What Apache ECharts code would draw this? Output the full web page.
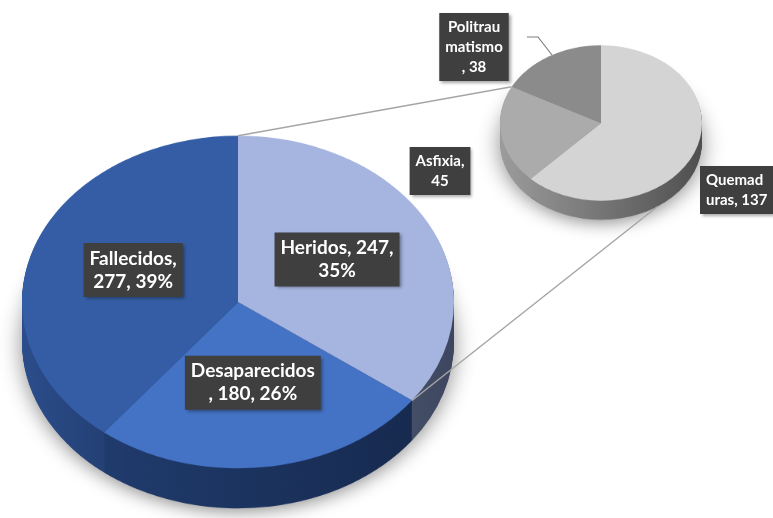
<!DOCTYPE html>
<html>
<head>
<meta charset="utf-8">
<script src="https://cdn.jsdelivr.net/npm/echarts@6/dist/echarts.min.js"></script>
<style>
html, body { margin: 0; padding: 0; background: #fff; overflow: hidden; }
#wrap { position: relative; width: 773px; height: 518px; overflow: hidden; }
#shape { position: absolute; left: 0; top: 0; width: 773px; transform-origin: 0 0; }
#labels { position: absolute; left: 0; top: 0; width: 773px; height: 518px; }
</style>
</head>
<body>
<div id="wrap"><div id="shape"></div><div id="labels"></div></div>
<script>
// main pie
var mainNames = ['Heridos', 'Desaparecidos', 'Fallecidos'];
var mainValues = [247, 180, 277];
// second pie (split of Heridos)
var subNames = ['Quemaduras', 'Asfixia', 'Politraumatismo'];
var subValues = [137, 45, 38];
// where the label text wraps (character index)
var mainBreaks = [[13], [13], [11]];
var subBreaks = [[6], [8], [8, 15]];

var k = 0.77; // vertical squash for the tilted look
var mainCx = 238, mainCy = 302, mainR = 216, mainDepth = 40;
var subCx = 601, subCy = 123, subR = 101, subDepth = 19;

var mainTop = ['#a5b5df', '#4472c4', '#345da5'];
var mainSide = [
    {type: 'linear', x: 300, y: 0, x2: 455, y2: 0, global: true, colorStops: [{offset: 0, color: '#58637f'}, {offset: 1, color: '#3d465e'}]},
    {type: 'linear', x: 90, y: 0, x2: 420, y2: 0, global: true, colorStops: [{offset: 0, color: '#203c6e'}, {offset: 1, color: '#172a4f'}]},
    {type: 'linear', x: 22, y: 0, x2: 200, y2: 0, global: true, colorStops: [{offset: 0, color: '#2b4d8b'}, {offset: 1, color: '#1c325c'}]}
];
var subTop = ['#d4d4d4', '#ababab', '#8b8b8b'];
var subSideGrad = {type: 'linear', x: 500, y: 0, x2: 702, y2: 0, global: true, colorStops: [{offset: 0, color: '#9c9c9c'}, {offset: 1, color: '#4f4f4f'}]};
var subSide = [subSideGrad, subSideGrad, subSideGrad];

// label boxes of the small pie, relative to its centre
var subLabelPos = [[99, 67, 'left'], [-161, 48, 'center'], [-127, -76, 'center']];

function wrap(str, breaks) {
    var out = [], last = 0;
    for (var i = 0; i < breaks.length; i++) {
        out.push(str.slice(last, breaks[i]).trim());
        last = breaks[i];
    }
    out.push(str.slice(last).trim());
    return out.join('\n');
}

function piePart(cx, cy, r, names, values, colors, z, shadow) {
    var st = {borderWidth: 0};
    if (shadow) {
        st.shadowBlur = 22;
        st.shadowColor = 'rgba(0,0,0,0.45)';
        st.shadowOffsetY = 4;
    }
    return {
        type: 'pie', silent: true, animation: false, z: z,
        center: [cx, cy / k], radius: r,
        startAngle: 90, clockwise: true,
        itemStyle: st,
        label: {show: false}, labelLine: {show: false},
        emphasis: {disabled: true},
        data: names.map(function (n, i) {
            return {name: n, value: values[i], itemStyle: {color: colors[i]}};
        })
    };
}

// ---------- shapes (squashed) ----------
var shapeSeries = [];
var z = 1;
for (var i = mainDepth; i >= 1; i--) {
    shapeSeries.push(piePart(mainCx, mainCy + i, mainR, mainNames, mainValues, mainSide, z++, i === mainDepth));
}
shapeSeries.push(piePart(mainCx, mainCy, mainR, mainNames, mainValues, mainTop, z++));
for (var j = subDepth; j >= 1; j--) {
    shapeSeries.push(piePart(subCx, subCy + j, subR, subNames, subValues, subSide, z++, j === subDepth));
}
shapeSeries.push(piePart(subCx, subCy, subR, subNames, subValues, subTop, z++));

var shapeDom = document.getElementById('shape');
shapeDom.style.height = Math.ceil(518 / k) + 'px';
shapeDom.style.transform = 'scaleY(' + k + ')';
var shapeChart = echarts.init(shapeDom);
shapeChart.setOption({animation: false, series: shapeSeries});

// ---------- labels and connector lines ----------
var clear = 'rgba(0,0,0,0)';
var boxStyle = {
    color: '#fff', fontFamily: 'Lato, sans-serif', fontWeight: 'bold',
    backgroundColor: '#3f3f3f', padding: [4, 6],
    shadowBlur: 3, shadowOffsetX: 2, shadowOffsetY: 2, shadowColor: 'rgba(0,0,0,0.35)'
};

function sumTo(arr, n) {
    var s = 0;
    for (var i = 0; i < n; i++) s += arr[i];
    return s;
}
function total(arr) { return sumTo(arr, arr.length); }

function rim(cx, cy, r, deg, drop) {
    var a = deg * Math.PI / 180;
    return [cx + r * Math.sin(a), cy - r * k * Math.cos(a) + (drop || 0)];
}

var mainEnd = sumTo(mainValues, 1) / total(mainValues) * 360;
var subGap = sumTo(subValues, 2) / total(subValues) * 360;
var p1 = rim(mainCx, mainCy, mainR, 0);
var p2 = rim(subCx, subCy, subR, subGap);
var p3 = rim(mainCx, mainCy, mainR, mainEnd);
var p4 = rim(subCx, subCy, subR, 146, subDepth);
var lineStyle = {stroke: '#a6a6a6', lineWidth: 1.5};

var labelChart = echarts.init(document.getElementById('labels'));
labelChart.setOption({
    animation: false,
    graphic: [
        {type: 'line', shape: {x1: p1[0], y1: p1[1], x2: p2[0], y2: p2[1]}, style: lineStyle},
        {type: 'line', shape: {x1: p3[0], y1: p3[1], x2: p4[0], y2: p4[1]}, style: lineStyle},
        {type: 'polyline', shape: {points: [[subCx - 74, subCy - 86], [subCx - 63, subCy - 86], [subCx - 49, subCy - 68]]},
         style: {stroke: '#7f7f7f', lineWidth: 1.2, fill: null}}
    ],
    series: [
        {
            type: 'pie', silent: true, z: 5,
            center: [mainCx, mainCy], radius: mainR,
            startAngle: 90, clockwise: true, percentPrecision: 0,
            itemStyle: {color: clear, borderWidth: 0},
            labelLine: {show: false},
            label: Object.assign({
                show: true, position: 'inside', fontSize: 19, lineHeight: 23,
                formatter: function (p) {
                    return wrap(p.name + ', ' + p.value + ', ' + p.percent + '%', mainBreaks[p.dataIndex]);
                }
            }, boxStyle),
            labelLayout: function (p) {
                var r = p.labelRect;
                var y = r.y + r.height / 2;
                return {x: r.x + r.width / 2, y: mainCy + (y - mainCy) * k - 4, align: 'center', verticalAlign: 'middle'};
            },
            data: mainNames.map(function (n, i) { return {name: n, value: mainValues[i]}; })
        },
        {
            type: 'pie', silent: true, z: 5,
            center: [subCx, subCy], radius: subR,
            startAngle: 90, clockwise: true,
            itemStyle: {color: clear, borderWidth: 0},
            labelLine: {show: false},
            label: Object.assign({
                show: true, position: 'inside', fontSize: 15, lineHeight: 20,
                formatter: function (p) {
                    return wrap(p.name + ', ' + p.value, subBreaks[p.dataIndex]);
                }
            }, boxStyle),
            labelLayout: function (p) {
                var o = subLabelPos[p.dataIndex];
                return {x: subCx + o[0], y: subCy + o[1], align: o[2], verticalAlign: 'middle'};
            },
            data: subNames.map(function (n, i) { return {name: n, value: subValues[i]}; })
        }
    ]
});
</script>
</body>
</html>
